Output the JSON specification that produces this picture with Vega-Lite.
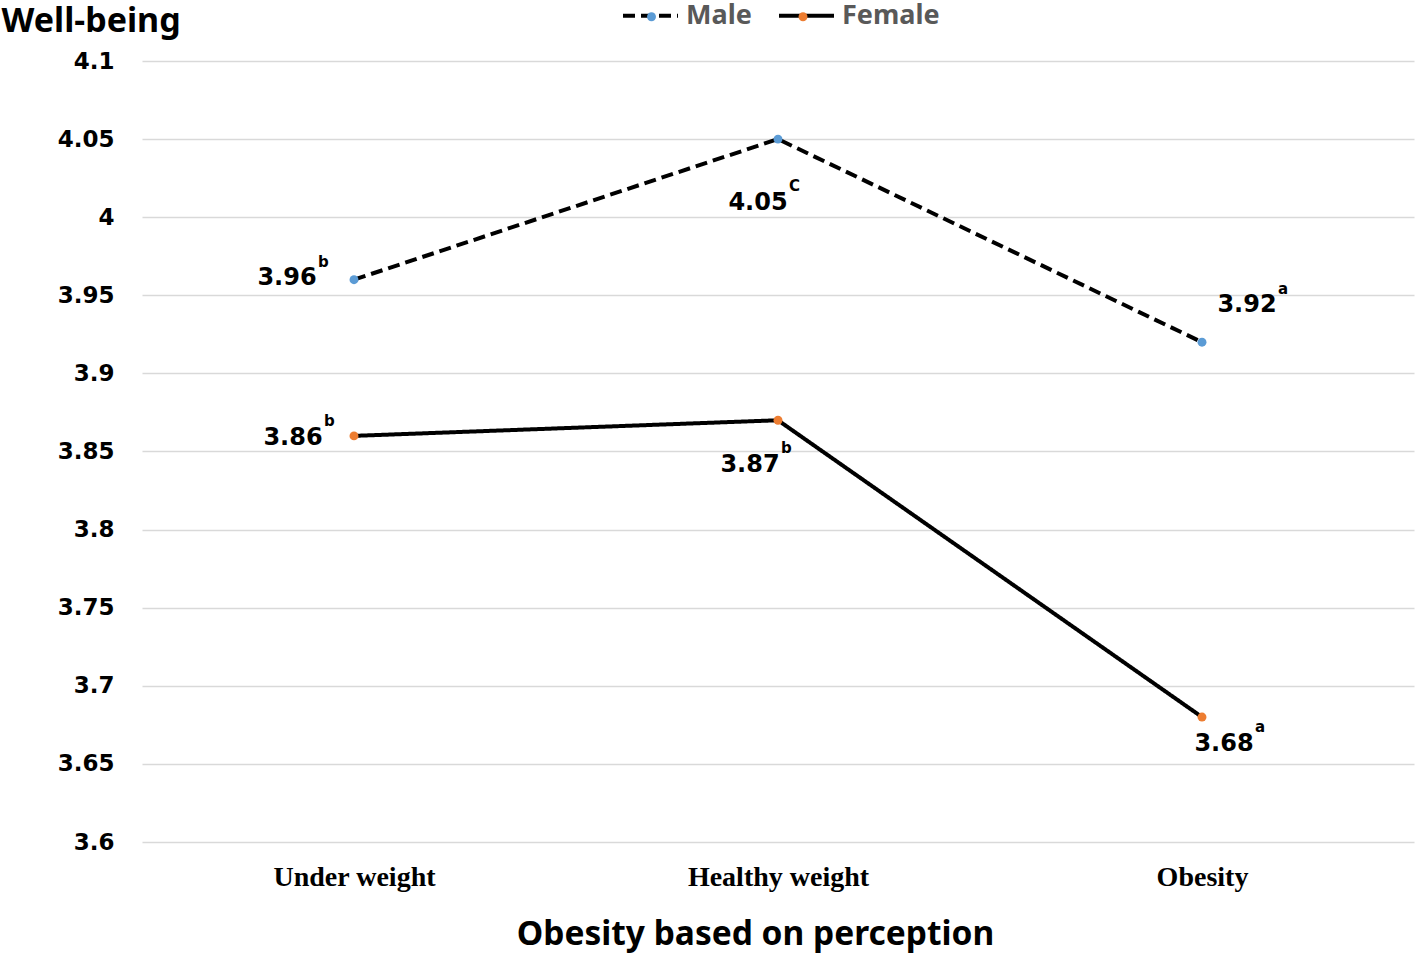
{
  "$schema": "https://vega.github.io/schema/vega-lite/v6.json",
  "width": 1272,
  "height": 781,
  "autosize": {"type": "none"},
  "padding": {"left": 142, "top": 61, "right": 4, "bottom": 113},
  "background": "white",
  "config": {"view": {"stroke": null}},
  "data": {"values": [
    {"weight": "Under weight", "sex": "Male", "value": 3.96, "label": "3.96", "sup": "b", "key": "MU"},
    {"weight": "Healthy weight", "sex": "Male", "value": 4.05, "label": "4.05", "sup": "C", "key": "MH"},
    {"weight": "Obesity", "sex": "Male", "value": 3.92, "label": "3.92", "sup": "a", "key": "MO"},
    {"weight": "Under weight", "sex": "Female", "value": 3.86, "label": "3.86", "sup": "b", "key": "FU"},
    {"weight": "Healthy weight", "sex": "Female", "value": 3.87, "label": "3.87", "sup": "b", "key": "FH"},
    {"weight": "Obesity", "sex": "Female", "value": 3.68, "label": "3.68", "sup": "a", "key": "FO"}
  ]},
  "encoding": {
    "x": {"field": "weight", "type": "nominal", "sort": ["Under weight", "Healthy weight", "Obesity"],
      "scale": {"type": "point", "padding": 0.5},
      "axis": {"title": "Obesity based on perception", "labelAngle": 0, "domain": false, "ticks": false, "grid": false, "labelLimit": 400,
        "labelFont": "Liberation Serif", "labelFontWeight": "bold", "labelFontSize": 28, "labelColor": "#000000", "labelPadding": 21,
        "titleFont": "Noto Sans", "titleFontWeight": "bold", "titleFontSize": 33.5, "titleColor": "#000000", "titlePadding": 27, "titleX": 613}},
    "y": {"field": "value", "type": "quantitative", "scale": {"domain": [3.6, 4.1], "nice": false, "zero": false},
      "axis": {"title": "Well-being", "values": [3.6, 3.65, 3.7, 3.75, 3.8, 3.85, 3.9, 3.95, 4.0, 4.05, 4.1], "format": ".3~g",
        "domain": false, "ticks": false, "grid": true, "gridColor": "#d9d9d9", "gridWidth": 1.5,
        "labelFont": "DejaVu Sans", "labelFontWeight": "bold", "labelFontSize": 23, "labelColor": "#000000", "labelPadding": 28,
        "titleAngle": 0, "titleAlign": "left", "titleBaseline": "alphabetic", "titleX": -141, "titleY": -30,
        "titleFont": "Noto Sans", "titleFontWeight": "bold", "titleFontSize": 34, "titleColor": "#000000"}}
  },
  "layer": [
    {
      "mark": {"type": "line", "color": "#000000", "strokeWidth": 4},
      "encoding": {
        "strokeDash": {"field": "sex", "type": "nominal", "sort": ["Male", "Female"],
          "scale": {"domain": ["Male", "Female"], "range": [[12, 6], [1, 0]]},
          "legend": {"title": null, "orient": "none", "legendX": 479, "legendY": -75, "direction": "horizontal",
            "symbolType": "stroke", "symbolSize": 3025, "symbolStrokeWidth": 4, "symbolStrokeColor": "#000000",
            "labelFont": "Noto Sans", "labelFontWeight": "bold", "labelFontSize": 27, "labelColor": "#595959", "columnPadding": 19, "labelOffset": 6}},
        "detail": {"field": "sex"}
      }
    },
    {
      "mark": {"type": "point", "filled": true, "size": 80, "opacity": 1},
      "encoding": {
        "color": {"field": "sex", "type": "nominal", "sort": ["Male", "Female"], "scale": {"range": ["#5B9BD5", "#ED7D31"]},
          "legend": {"title": null, "orient": "none", "legendX": 496, "legendY": -58, "direction": "horizontal",
            "symbolType": "circle", "symbolSize": 80, "symbolStrokeWidth": 0, "symbolOpacity": 1,
            "labelExpr": "''", "labelFontSize": 27, "labelOffset": 0, "columnPadding": 124.5}}
      }
    },
    {"transform": [{"filter": "datum.key === 'MU'"}], "layer": [
      {"mark": {"type": "text", "font": "DejaVu Sans", "fontWeight": "bold", "fontSize": 24, "dx": -67, "dy": -2}, "encoding": {"text": {"field": "label"}}},
      {"mark": {"type": "text", "font": "DejaVu Sans", "fontWeight": "bold", "fontSize": 15, "align": "left", "dx": -36, "dy": -18}, "encoding": {"text": {"field": "sup"}}}
    ]},
    {"transform": [{"filter": "datum.key === 'MH'"}], "layer": [
      {"mark": {"type": "text", "font": "DejaVu Sans", "fontWeight": "bold", "fontSize": 24, "dx": -20, "dy": 64}, "encoding": {"text": {"field": "label"}}},
      {"mark": {"type": "text", "font": "DejaVu Sans", "fontWeight": "bold", "fontSize": 15, "align": "left", "dx": 11, "dy": 47}, "encoding": {"text": {"field": "sup"}}}
    ]},
    {"transform": [{"filter": "datum.key === 'MO'"}], "layer": [
      {"mark": {"type": "text", "font": "DejaVu Sans", "fontWeight": "bold", "fontSize": 24, "dx": 45, "dy": -37}, "encoding": {"text": {"field": "label"}}},
      {"mark": {"type": "text", "font": "DejaVu Sans", "fontWeight": "bold", "fontSize": 15, "align": "left", "dx": 76, "dy": -53}, "encoding": {"text": {"field": "sup"}}}
    ]},
    {"transform": [{"filter": "datum.key === 'FU'"}], "layer": [
      {"mark": {"type": "text", "font": "DejaVu Sans", "fontWeight": "bold", "fontSize": 24, "dx": -61, "dy": 2}, "encoding": {"text": {"field": "label"}}},
      {"mark": {"type": "text", "font": "DejaVu Sans", "fontWeight": "bold", "fontSize": 15, "align": "left", "dx": -30, "dy": -15}, "encoding": {"text": {"field": "sup"}}}
    ]},
    {"transform": [{"filter": "datum.key === 'FH'"}], "layer": [
      {"mark": {"type": "text", "font": "DejaVu Sans", "fontWeight": "bold", "fontSize": 24, "dx": -28, "dy": 45}, "encoding": {"text": {"field": "label"}}},
      {"mark": {"type": "text", "font": "DejaVu Sans", "fontWeight": "bold", "fontSize": 15, "align": "left", "dx": 3, "dy": 28}, "encoding": {"text": {"field": "sup"}}}
    ]},
    {"transform": [{"filter": "datum.key === 'FO'"}], "layer": [
      {"mark": {"type": "text", "font": "DejaVu Sans", "fontWeight": "bold", "fontSize": 24, "dx": 22, "dy": 27}, "encoding": {"text": {"field": "label"}}},
      {"mark": {"type": "text", "font": "DejaVu Sans", "fontWeight": "bold", "fontSize": 15, "align": "left", "dx": 53, "dy": 10}, "encoding": {"text": {"field": "sup"}}}
    ]}
  ]
}
